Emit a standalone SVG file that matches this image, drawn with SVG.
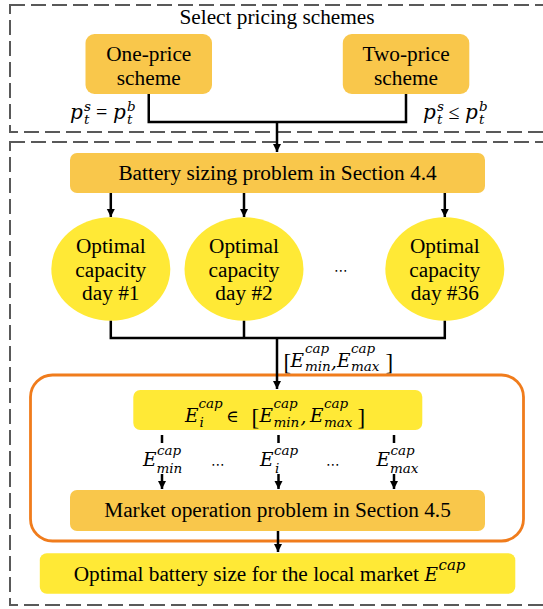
<svg xmlns="http://www.w3.org/2000/svg" width="543" height="609" viewBox="0 0 543 609">
<defs>
<marker id="ah" markerUnits="userSpaceOnUse" markerWidth="9" markerHeight="9" refX="8" refY="4.5" orient="auto">
<path d="M0,0.5 L8,4.5 L0,8.5 z" fill="#000"/>
</marker>
<style>
.frame{fill:none;stroke:#595959;stroke-width:2;stroke-dasharray:15 6}
.gold{fill:#F9C74B}
.yel{fill:#FFE936}
.t{font-family:"Liberation Serif","Times New Roman",serif;font-size:21.3px;fill:#000;text-anchor:middle}
.m{font-family:"DejaVu Serif",serif;font-style:italic;font-size:18.5px;fill:#000}
.p{font-family:"DejaVu Serif",serif;font-style:italic;font-size:20px;fill:#000}
.s{font-family:"DejaVu Serif",serif;font-style:italic;font-size:13.5px;fill:#000}
.u{font-family:"Liberation Serif",serif;font-size:20px;fill:#000}
.e{font-family:"DejaVu Serif",serif;font-size:17px;fill:#000}
.b{font-family:"Liberation Serif",serif;font-size:23px;fill:#000}
.dots{font-family:"DejaVu Sans",sans-serif;font-size:14px;fill:#000;text-anchor:middle}
.c{fill:none;stroke:#000;stroke-width:2.5}
</style>
</defs>

<g id="frame-pricing">
<rect class="frame" x="10" y="5" width="560" height="127"/>
<text class="t" x="277" y="24">Select pricing schemes</text>
</g>
<g id="frame-sizing">
<rect class="frame" x="10" y="142" width="560" height="463"/>
</g>

<g id="one-price">
<rect class="gold" x="85.5" y="34" width="126.5" height="60" rx="9"/>
<text class="t" x="148.75" y="61">One-price</text>
<text class="t" x="148.75" y="85">scheme</text>
</g>
<g id="two-price">
<rect class="gold" x="342.8" y="34" width="126.5" height="60" rx="9"/>
<text class="t" x="406" y="61">Two-price</text>
<text class="t" x="406" y="85">scheme</text>
</g>

<g id="label-one-price">
<text class="p" x="70" y="118.5">p</text>
<text class="s" x="84" y="111">s</text>
<text class="s" x="84" y="123.5">t</text>
<text class="u" x="96" y="118.5">=</text>
<text class="p" x="113" y="118.5">p</text>
<text class="s" x="127" y="111">b</text>
<text class="s" x="127" y="123.5">t</text>
</g>
<g id="label-two-price">
<text class="p" x="423" y="118.5">p</text>
<text class="s" x="437" y="111">s</text>
<text class="s" x="437" y="123.5">t</text>
<text class="u" x="448.5" y="118.5">≤</text>
<text class="p" x="465" y="118.5">p</text>
<text class="s" x="479" y="111">b</text>
<text class="s" x="479" y="123.5">t</text>
</g>

<g id="battery-sizing">
<rect class="gold" x="70" y="153" width="415" height="40" rx="7"/>
<text class="t" x="277.5" y="180">Battery sizing problem in Section 4.4</text>
</g>

<g id="day1">
<ellipse class="yel" cx="110.8" cy="269" rx="59.5" ry="51.7"/>
<text class="t" x="110.8" y="253.3">Optimal</text>
<text class="t" x="110.8" y="276.7">capacity</text>
<text class="t" x="110.8" y="300">day #1</text>
</g>
<g id="day2">
<ellipse class="yel" cx="244" cy="269" rx="59.5" ry="51.7"/>
<text class="t" x="244" y="253.3">Optimal</text>
<text class="t" x="244" y="276.7">capacity</text>
<text class="t" x="244" y="300">day #2</text>
</g>
<text class="dots" x="341" y="275">⋯</text>
<g id="day36">
<ellipse class="yel" cx="444.8" cy="269" rx="59.5" ry="51.7"/>
<text class="t" x="444.8" y="253.3">Optimal</text>
<text class="t" x="444.8" y="276.7">capacity</text>
<text class="t" x="444.8" y="300">day #36</text>
</g>

<g id="label-range">
<text class="b" x="283.5" y="369.5">[</text>
<text class="m" x="290.5" y="366.5">E</text>
<text class="s" x="305" y="353">cap</text>
<text class="s" x="305" y="371">min</text>
<text class="m" x="331" y="368">,</text>
<text class="m" x="337" y="366.5">E</text>
<text class="s" x="351" y="353">cap</text>
<text class="s" x="351" y="371">max</text>
<text class="b" x="385.5" y="369.5">]</text>
</g>

<g id="market-loop">
<rect x="30.5" y="375" width="493" height="166" rx="22" fill="none" stroke="#F07C1C" stroke-width="2.8"/>
</g>

<g id="capacity-range">
<rect class="yel" x="133.3" y="390" width="289" height="40" rx="7"/>
<text class="m" x="185" y="421.5">E</text>
<text class="s" x="198.5" y="408">cap</text>
<text class="s" x="199.5" y="427">i</text>
<text class="e" x="226" y="421.5">∈</text>
<text class="b" x="251.5" y="425">[</text>
<text class="m" x="259.5" y="421.5">E</text>
<text class="s" x="273.5" y="408">cap</text>
<text class="s" x="273.5" y="427">min</text>
<text class="m" x="300.5" y="423">,</text>
<text class="m" x="310" y="421.5">E</text>
<text class="s" x="324" y="408">cap</text>
<text class="s" x="324" y="427">max</text>
<text class="b" x="357.5" y="425">]</text>
</g>

<g id="labels-capacity">
<text class="m" x="143" y="466">E</text>
<text class="s" x="157" y="454.5">cap</text>
<text class="s" x="156.5" y="472.5">min</text>
<text class="dots" x="218" y="469">⋯</text>
<text class="m" x="260" y="466">E</text>
<text class="s" x="274" y="454.5">cap</text>
<text class="s" x="275" y="472.5">i</text>
<text class="dots" x="333" y="469">⋯</text>
<text class="m" x="376.5" y="466">E</text>
<text class="s" x="390.5" y="454.5">cap</text>
<text class="s" x="390" y="472.5">max</text>
</g>

<g id="market-operation">
<rect class="gold" x="70" y="490" width="415" height="41" rx="7"/>
<text class="t" x="277.5" y="517">Market operation problem in Section 4.5</text>
</g>

<g id="optimal-size">
<rect class="yel" x="39.8" y="553.3" width="475.5" height="40.5" rx="7"/>
<text class="t" x="419" y="581" style="text-anchor:end">Optimal battery size for the local market</text>
<text class="m" x="424.5" y="581">E</text>
<text class="s" x="438.5" y="570" style="font-size:15px">cap</text>
</g>

<g id="connectors">
<path class="c" d="M148.75 94 V122 H406 V94"/>
<path class="c" d="M277 122 V152" marker-end="url(#ah)"/>
<path class="c" d="M110.8 193 V217" marker-end="url(#ah)"/>
<path class="c" d="M244 193 V217" marker-end="url(#ah)"/>
<path class="c" d="M444.8 193 V217" marker-end="url(#ah)"/>
<path class="c" d="M110.8 320.7 V338 H444.8 V320.7 M244 320.7 V338"/>
<path class="c" d="M277 338 V389" marker-end="url(#ah)"/>
<path class="c" d="M162 435 V443 M278.5 435 V443 M394 435 V443"/>
<path class="c" d="M162 474 V489" marker-end="url(#ah)"/>
<path class="c" d="M278.5 474 V489" marker-end="url(#ah)"/>
<path class="c" d="M394 474 V489" marker-end="url(#ah)"/>
<path class="c" d="M278 531 V552" marker-end="url(#ah)"/>
</g>
</svg>
